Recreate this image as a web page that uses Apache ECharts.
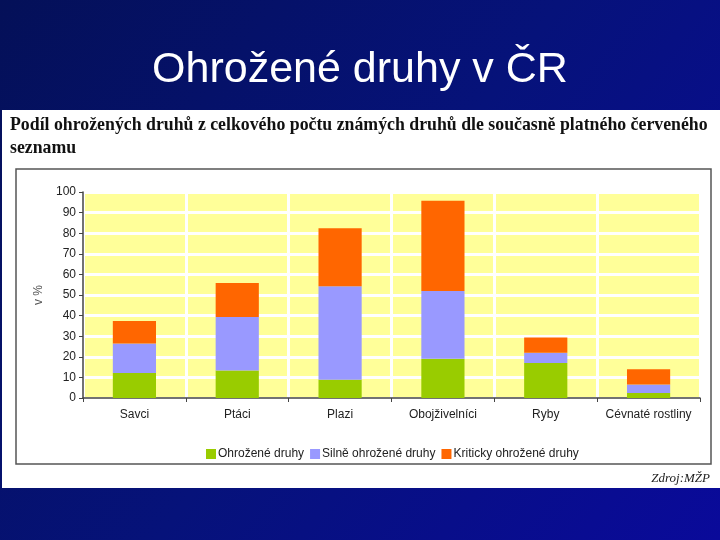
<!DOCTYPE html>
<html><head><meta charset="utf-8">
<script src="https://cdn.jsdelivr.net/npm/echarts@6/dist/echarts.min.js"></script>
<style>html,body{margin:0;padding:0;background:#06097a;}#c{width:720px;height:540px;}</style>
</head><body><div id="c"></div>
<script>
const categories = ['Savci', 'Ptáci', 'Plazi', 'Obojživelníci', 'Ryby', 'Cévnaté rostliny'];
const ohrozene = [12.1, 13.4, 8.9, 19.1, 17.0, 2.4];
const silneOhrozene = [14.4, 25.9, 45.3, 32.8, 5.0, 4.1];
const kritickyOhrozene = [10.9, 16.5, 28.2, 43.9, 7.4, 7.4];
const seriesNames = ['Ohrožené druhy', 'Silně ohrožené druhy', 'Kriticky ohrožené druhy'];
const colors = ['#99CC00', '#9999FF', '#FF6600'];

const chart = echarts.init(document.getElementById('c'), null, {renderer: 'canvas'});
chart.setOption({
  backgroundColor: {
    type: 'linear', x: 0, y: 0, x2: 1, y2: 1,
    colorStops: [{offset: 0, color: '#041058'}, {offset: 0.5, color: '#06127a'}, {offset: 1, color: '#0a0a9a'}]
  },
  animation: false,
  title: {
    text: 'Ohrožené druhy v ČR',
    left: 'center', top: 44,
    textStyle: {color: '#ffffff', fontFamily: 'Liberation Sans, Arial', fontSize: 43, fontWeight: 'normal'}
  },
  graphic: [
    {type: 'rect', z: -10, shape: {x: 2, y: 110, width: 718, height: 378}, style: {fill: '#ffffff'}},
    {type: 'rect', z: -9, shape: {x: 16, y: 169, width: 695, height: 295}, style: {fill: '#ffffff', stroke: '#555555', lineWidth: 1.5}},
    {type: 'text', z: 5, left: 10, top: 114, style: {
      text: 'Podíl ohrožených druhů z celkového počtu známých druhů dle současně platného červeného\nseznamu',
      font: 'bold 17.8px "Liberation Serif", "Times New Roman", serif', fill: '#111111', lineHeight: 23
    }},
    {type: 'text', z: 5, right: 10, top: 472, style: {
      text: 'Zdroj:MŽP', font: 'italic 13px "Liberation Serif", "Times New Roman", serif', fill: '#222222'
    }}
  ],
  legend: {
    data: seriesNames, left: 201, top: 443,
    itemWidth: 10, itemHeight: 10, itemGap: 6, icon: 'rect',
    textStyle: {fontFamily: 'Liberation Sans, Arial', fontSize: 12, color: '#222222', padding: [0, 0, 0, -3]}
  },
  grid: {
    left: 83, top: 192, right: 20, bottom: 142,
    show: true, backgroundColor: '#FFFF99', borderColor: '#a0a0a0', borderWidth: 1
  },
  xAxis: {
    type: 'category', data: categories, boundaryGap: true,
    axisLine: {lineStyle: {color: '#444444', width: 1.5}},
    axisTick: {show: true, interval: 0, length: 4, lineStyle: {color: '#444444'}},
    axisLabel: {interval: 0, fontFamily: 'Liberation Sans, Arial', fontSize: 12, color: '#222222', margin: 11},
    splitLine: {show: true, interval: 0, lineStyle: {color: '#ffffff', width: 3}}
  },
  yAxis: {
    type: 'value', min: 0, max: 100, interval: 10,
    name: 'v %', nameLocation: 'middle', nameRotate: 90, nameGap: 38,
    nameTextStyle: {fontFamily: 'Liberation Sans, Arial', fontSize: 12, color: '#555555'},
    axisLine: {show: true, lineStyle: {color: '#444444', width: 1.5}},
    axisTick: {show: true, length: 4, lineStyle: {color: '#444444'}},
    axisLabel: {fontFamily: 'Liberation Sans, Arial', fontSize: 12, color: '#222222', margin: 7},
    splitLine: {show: true, lineStyle: {color: '#ffffff', width: 3}}
  },
  series: [
    {name: seriesNames[0], type: 'bar', stack: 's', data: ohrozene, barWidth: '42%', itemStyle: {color: colors[0]}},
    {name: seriesNames[1], type: 'bar', stack: 's', data: silneOhrozene, barWidth: '42%', itemStyle: {color: colors[1]}},
    {name: seriesNames[2], type: 'bar', stack: 's', data: kritickyOhrozene, barWidth: '42%', itemStyle: {color: colors[2]}}
  ]
});
</script></body></html>
